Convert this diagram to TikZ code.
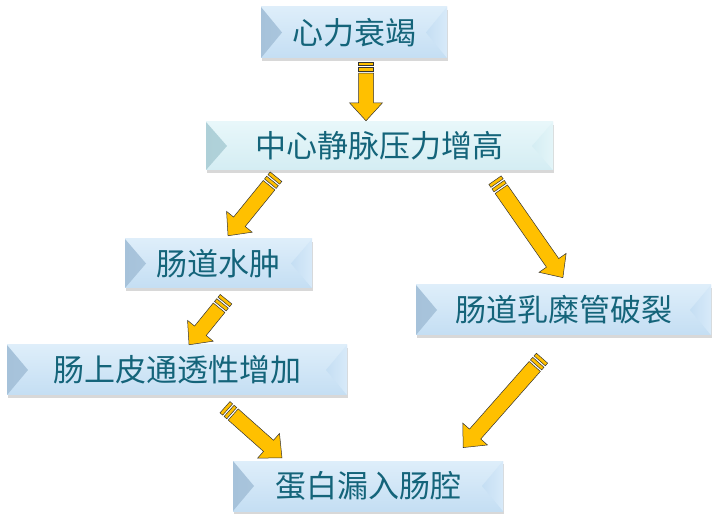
\documentclass[tikz,border=0pt]{standalone}
\usepackage{fontspec}
\newfontfamily\cjk{Noto Sans CJK SC}
\usetikzlibrary{calc,shadows}
\definecolor{txt}{RGB}{20,100,122}
\definecolor{faceA}{RGB}{196,222,243}
\definecolor{faceAtop}{RGB}{222,238,250}
\definecolor{leftA}{RGB}{166,194,218}
\definecolor{rightA}{RGB}{216,234,249}
\definecolor{faceB}{RGB}{212,237,243}
\definecolor{faceBtop}{RGB}{232,247,250}
\definecolor{leftB}{RGB}{174,208,216}
\definecolor{rightB}{RGB}{228,245,248}
\definecolor{gold}{RGB}{255,192,0}
\tikzset{
  box/.style n args={4}{rectangle, inner sep=0pt, text=txt,
    font=\cjk\fontsize{31}{36}\selectfont,
    top color=#1, bottom color=#2,
    drop shadow={shadow xshift=1pt, shadow yshift=-3pt, opacity=0.3},
    path picture={
      \shade[left color=#3, right color=#2]
        (path picture bounding box.north west)
        -- ($(path picture bounding box.west)+(21,0)$)
        -- (path picture bounding box.south west) -- cycle;
      \shade[left color=#2, right color=#4]
        (path picture bounding box.north east)
        -- ($(path picture bounding box.east)+(-21,0)$)
        -- (path picture bounding box.south east) -- cycle;
    }},
  boxA/.style={box={faceAtop}{faceA}{leftA}{rightA}},
  boxB/.style={box={faceBtop}{faceB}{leftB}{rightB}},
  arrsty/.style={fill=gold, draw=black!80, line width=0.5pt, line join=miter},
  pics/barrow/.style={code={
    \pgfmathsetmacro\myL{#1}
    \pgfmathsetmacro\myH{#1-18}
    \filldraw[arrsty] (11,-7.5) -- (\myH,-7.5) -- (\myH,-16.5) -- (\myL,0)
      -- (\myH,16.5) -- (\myH,7.5) -- (11,7.5) -- cycle;
    \filldraw[arrsty] (0,-7.5) rectangle (3.5,7.5);
    \filldraw[arrsty] (5.5,-7.5) rectangle (9,7.5);
  }}
}
\newcommand\blockarr[2]{%
  \path let \p1=($(#2)-(#1)$), \n1={atan2(\y1,\x1)}, \n2={veclen(\x1,\y1)} in
    \pgfextra{\xdef\myangG{\n1}\xdef\mylenG{\n2}};
  \pic[rotate=\myangG] at (#1) {barrow=\mylenG};
}
\begin{document}
\begin{tikzpicture}[x=1pt,y=-1pt]
\useasboundingbox (0,0) rectangle (718,521);
\fill[white] (0,0) rectangle (718,521);

\node[boxA, minimum width=186pt, minimum height=51pt] (b1) at (354,32.5) {心力衰竭};
\node[boxB, minimum width=347pt, minimum height=48pt] (b2) at (379.5,146) {中心静脉压力增高};
\node[boxA, minimum width=187pt, minimum height=49pt] (b3) at (218.5,263.5) {肠道水肿};
\node[boxA, minimum width=295pt, minimum height=50pt] (b4) at (563.5,310) {肠道乳糜管破裂};
\node[boxA, minimum width=340pt, minimum height=50pt] (b5) at (177,370) {肠上皮通透性增加};
\node[boxA, minimum width=270pt, minimum height=50pt] (b6) at (368,486) {蛋白漏入肠腔};

\coordinate (a1s) at ($(b1.south)+(12,4)$);
\coordinate (a1e) at ($(b2.north)+(-13.5,-1)$);
\coordinate (a2s) at ($(b2.south)+(-103.5,6.5)$);
\coordinate (a2e) at ($(b3.north)+(9.5,-3)$);
\coordinate (a3s) at ($(b2.south)+(115.5,10)$);
\coordinate (a3e) at ($(b4.north)+(-0.5,-7)$);
\coordinate (a4s) at ($(b3.south)+(7.5,11)$);
\coordinate (a4e) at ($(b5.north)+(12,0)$);
\coordinate (a5s) at ($(b5.south)+(48,12)$);
\coordinate (a5e) at ($(b6.north)+(-86,-3)$);
\coordinate (a6s) at ($(b4.south)+(-21.5,23)$);
\coordinate (a6e) at ($(b6.north)+(95,-13)$);

\blockarr{a1s}{a1e}
\blockarr{a2s}{a2e}
\blockarr{a3s}{a3e}
\blockarr{a4s}{a4e}
\blockarr{a5s}{a5e}
\blockarr{a6s}{a6e}
\end{tikzpicture}
\end{document}
